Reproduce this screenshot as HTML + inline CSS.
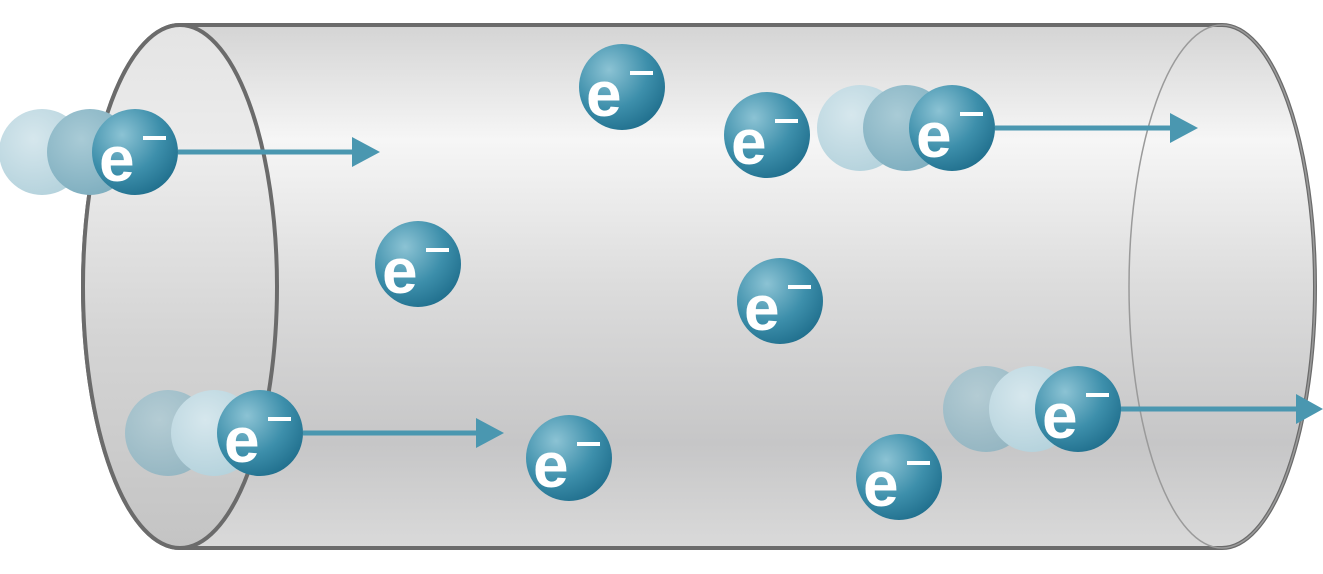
<!DOCTYPE html>
<html><head><style>html,body{margin:0;padding:0;background:#fff;}svg{display:block}</style></head><body>
<svg width="1323" height="574" viewBox="0 0 1323 574" xmlns="http://www.w3.org/2000/svg">
<defs>
<linearGradient id="body" x1="0" y1="0" x2="0" y2="1">
<stop offset="0" stop-color="#d4d4d4"/><stop offset="0.22" stop-color="#f6f6f6"/><stop offset="0.5" stop-color="#dcdcdc"/><stop offset="0.8" stop-color="#c6c6c7"/><stop offset="1" stop-color="#dadada"/>
</linearGradient>
<linearGradient id="cap" x1="0" y1="0" x2="0" y2="1">
<stop offset="0" stop-color="#e4e4e4"/><stop offset="0.25" stop-color="#ececec"/><stop offset="0.6" stop-color="#d4d4d4"/><stop offset="1" stop-color="#c4c4c4"/>
</linearGradient>
<radialGradient id="el" cx="0.35" cy="0.3" r="0.75">
<stop offset="0" stop-color="#8cc3d4"/><stop offset="0.6" stop-color="#3d8fab"/><stop offset="1" stop-color="#21708e"/>
</radialGradient>
<radialGradient id="g1" cx="0.4" cy="0.35" r="0.7">
<stop offset="0" stop-color="#a9cbd6"/><stop offset="1" stop-color="#7eaebf"/>
</radialGradient>
<radialGradient id="g2" cx="0.4" cy="0.35" r="0.7">
<stop offset="0" stop-color="#d6e7ed"/><stop offset="1" stop-color="#b4d2dc"/>
</radialGradient>
</defs>
<path d="M180,25 L1222,25 A93,261.5 0 0 1 1222,548 L180,548 A97,261.5 0 0 1 180,25 Z" fill="url(#body)" stroke="#6b6b6b" stroke-width="4"/>
<ellipse cx="1222" cy="286.5" rx="93" ry="261.5" fill="none" stroke="#9a9a9a" stroke-width="1.5"/>
<ellipse cx="180" cy="286.5" rx="97" ry="261.5" fill="url(#cap)" stroke="#6b6b6b" stroke-width="4"/>
<g stroke="#4a97b0" stroke-width="5">
<line x1="178" y1="152" x2="352" y2="152"/><line x1="995" y1="128" x2="1170" y2="128"/><line x1="303" y1="433" x2="476" y2="433"/><line x1="1120" y1="409" x2="1296" y2="409"/>
</g>
<g fill="#4a97b0">
<path d="M352,137 L380,152 L352,167Z"/><path d="M1170,113 L1198,128 L1170,143Z"/><path d="M476,418 L504,433 L476,448Z"/><path d="M1296,394 L1323,409 L1296,424Z"/>
</g>
<g>
<circle cx="42" cy="152" r="43" fill="url(#g2)"/><circle cx="90" cy="152" r="43" fill="url(#g1)"/>
<circle cx="860" cy="128" r="43" fill="url(#g2)"/><circle cx="906" cy="128" r="43" fill="url(#g1)"/>
<circle cx="168" cy="433" r="43" fill="url(#g1)" opacity="0.7"/><circle cx="214" cy="433" r="43" fill="url(#g2)"/>
<circle cx="986" cy="409" r="43" fill="url(#g1)" opacity="0.7"/><circle cx="1032" cy="409" r="43" fill="url(#g2)"/>
</g>
<g font-family="Liberation Sans, sans-serif" font-weight="bold" fill="#fff" font-size="64">
<circle cx="135" cy="152" r="43" fill="url(#el)"/><text x="99" y="181">e</text><rect x="143" y="136" width="23" height="4"/>
<circle cx="622" cy="87" r="43" fill="url(#el)"/><text x="586" y="116">e</text><rect x="630" y="71" width="23" height="4"/>
<circle cx="767" cy="135" r="43" fill="url(#el)"/><text x="731" y="164">e</text><rect x="775" y="119" width="23" height="4"/>
<circle cx="952" cy="128" r="43" fill="url(#el)"/><text x="916" y="157">e</text><rect x="960" y="112" width="23" height="4"/>
<circle cx="418" cy="264" r="43" fill="url(#el)"/><text x="382" y="293">e</text><rect x="426" y="248" width="23" height="4"/>
<circle cx="780" cy="301" r="43" fill="url(#el)"/><text x="744" y="330">e</text><rect x="788" y="285" width="23" height="4"/>
<circle cx="260" cy="433" r="43" fill="url(#el)"/><text x="224" y="462">e</text><rect x="268" y="417" width="23" height="4"/>
<circle cx="569" cy="458" r="43" fill="url(#el)"/><text x="533" y="487">e</text><rect x="577" y="442" width="23" height="4"/>
<circle cx="1078" cy="409" r="43" fill="url(#el)"/><text x="1042" y="438">e</text><rect x="1086" y="393" width="23" height="4"/>
<circle cx="899" cy="477" r="43" fill="url(#el)"/><text x="863" y="506">e</text><rect x="907" y="461" width="23" height="4"/>
</g>
</svg>
</body></html>
